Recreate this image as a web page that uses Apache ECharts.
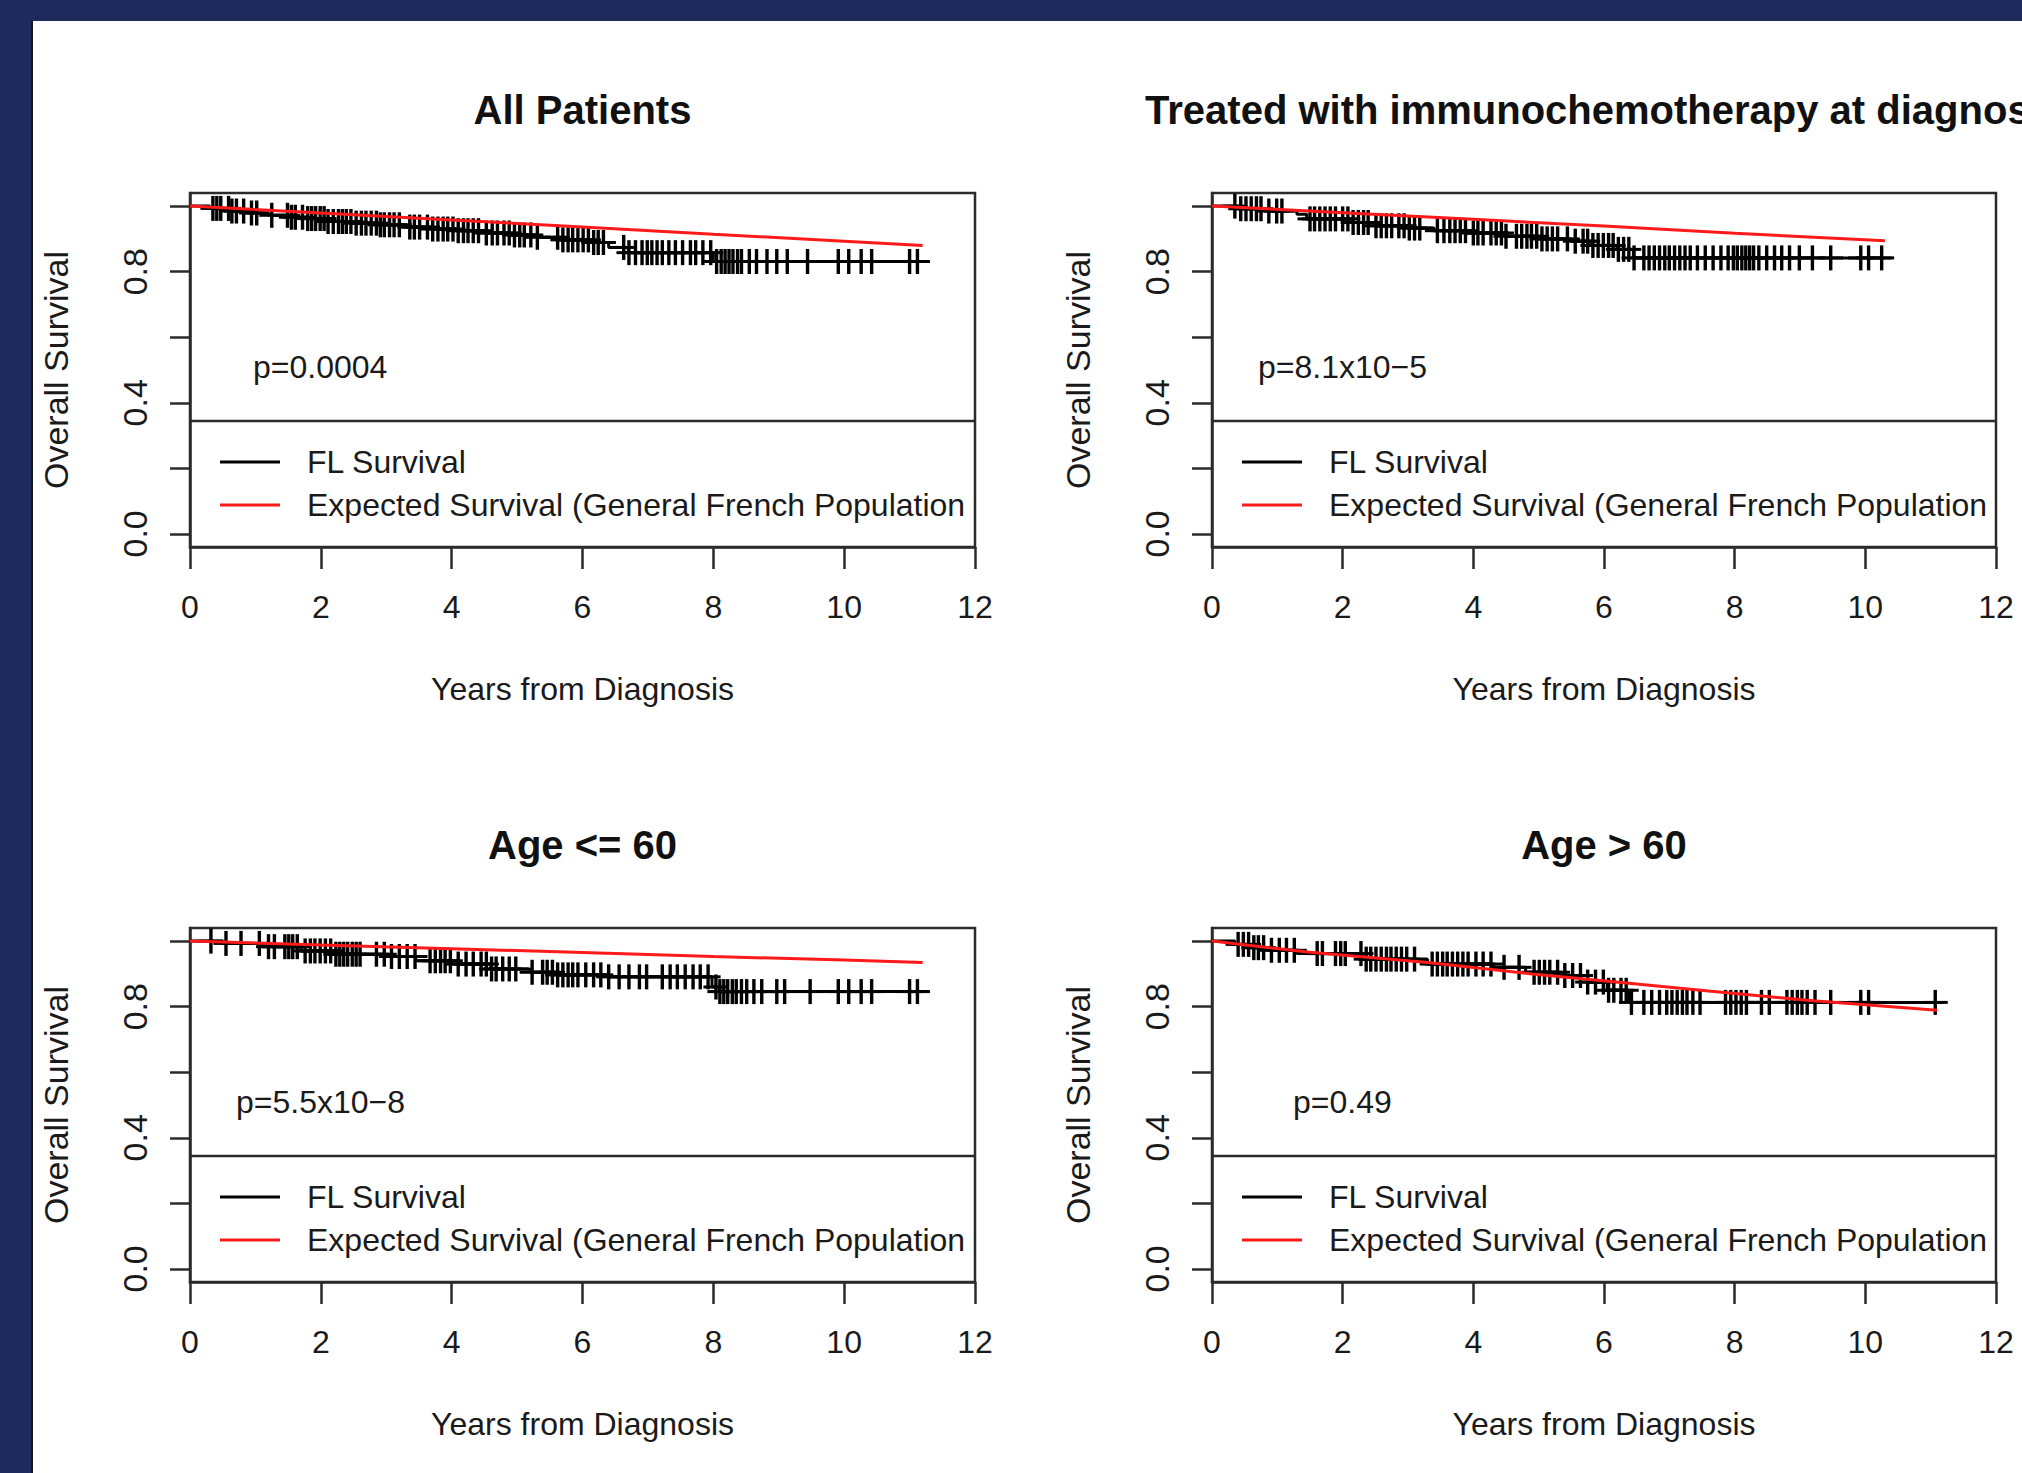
<!DOCTYPE html>
<html><head><meta charset="utf-8">
<script src="https://cdn.jsdelivr.net/npm/echarts@6/dist/echarts.min.js"></script>
<style>html,body{margin:0;padding:0;background:#1f2a5c;overflow:hidden}#c{width:2022px;height:1473px}</style>
</head><body><div id="c"></div>
<script>
// ---------------- DATA ----------------
const panelTitles = ['All Patients', 'Treated with immunochemotherapy at diagnosis', 'Age <= 60', 'Age > 60'];
const pValues = ['p=0.0004', 'p=8.1x10\u22125', 'p=5.5x10\u22128', 'p=0.49'];
const xTickValues = [0, 2, 4, 6, 8, 10, 12];
const yTickValues = [0, 0.2, 0.4, 0.6, 0.8, 1.0];
const yLabelValues = [0, 0.4, 0.8];
const seriesNames = ['FL Survival', 'Expected Survival (General French Population'];
const xTitle = 'Years from Diagnosis';
const yTitle = 'Overall Survival';

// Kaplan-Meier (FL survival) step points: time of drop, survival after it (last = end of follow-up)
const km1Time = [0, 0.3, 0.6, 0.9, 1.2, 1.5, 1.8, 2.1, 2.5, 2.9, 3.3, 3.7, 4.1, 4.5, 4.9, 5.3, 5.7, 6.1, 6.4, 6.7, 8.0, 11.3];
const km1Surv = [1.0, 0.993, 0.985, 0.979, 0.972, 0.966, 0.962, 0.953, 0.948, 0.943, 0.936, 0.930, 0.925, 0.918, 0.912, 0.905, 0.897, 0.889, 0.874, 0.858, 0.831, 0.831];
const km2Time = [0, 0.4, 0.8, 1.3, 1.45, 2.1, 2.5, 3.0, 3.4, 3.9, 4.5, 5.0, 5.5, 5.8, 6.2, 6.45, 10.4];
const km2Surv = [1.0, 0.992, 0.985, 0.975, 0.961, 0.950, 0.940, 0.933, 0.925, 0.918, 0.908, 0.900, 0.893, 0.880, 0.868, 0.842, 0.842];
const km3Time = [0, 0.5, 1.1, 1.7, 2.2, 3.0, 3.45, 4.0, 4.6, 5.2, 5.6, 6.4, 7.98, 8.1, 11.3];
const km3Surv = [1.0, 0.993, 0.983, 0.970, 0.960, 0.953, 0.940, 0.930, 0.915, 0.905, 0.897, 0.891, 0.860, 0.846, 0.846];
const km4Time = [0, 0.35, 0.6, 0.9, 1.3, 2.3, 3.3, 4.3, 4.8, 5.3, 5.75, 6.05, 6.38, 11.2];
const km4Surv = [1.0, 0.99, 0.98, 0.972, 0.962, 0.945, 0.930, 0.920, 0.905, 0.895, 0.875, 0.850, 0.813, 0.813];

// Expected survival (general French population)
const exp1Time = [0, 2, 4, 6, 8, 10, 11.2];
const exp1Surv = [1.0, 0.979, 0.958, 0.936, 0.914, 0.893, 0.880];
const exp2Time = [0, 2, 4, 6, 8, 10.3];
const exp2Surv = [1.0, 0.980, 0.960, 0.939, 0.917, 0.894];
const exp3Time = [0, 2, 4, 6, 8, 10, 11.2];
const exp3Surv = [1.0, 0.988, 0.977, 0.965, 0.953, 0.942, 0.935];
const exp4Time = [0, 1.5, 3.3, 4.9, 6.5, 7.6, 9.2, 11.1];
const exp4Surv = [1.0, 0.966, 0.935, 0.900, 0.869, 0.848, 0.818, 0.789];

// Censoring times (years)
const cens1 = [0.35,0.41,0.47,0.59,0.64,0.71,0.82,0.94,1.02,1.25,1.49,1.55,1.61,1.72,1.80,1.86,1.92,1.99,2.05,2.11,2.19,2.27,2.33,2.39,2.46,2.54,2.62,2.69,2.77,2.85,2.91,2.97,3.05,3.12,3.20,3.36,3.43,3.51,3.63,3.71,3.79,3.87,3.94,4.02,4.10,4.18,4.25,4.33,4.41,4.53,4.62,4.70,4.80,4.88,4.96,5.04,5.11,5.21,5.31,5.62,5.70,5.78,5.85,5.93,6.01,6.09,6.17,6.24,6.32,6.63,6.71,6.81,6.91,6.99,7.06,7.14,7.22,7.32,7.42,7.53,7.65,7.73,7.84,7.96,8.05,8.12,8.18,8.24,8.30,8.37,8.43,8.55,8.66,8.82,8.97,9.13,9.44,9.91,10.07,10.26,10.42,11.00,11.12];
const cens2 = [0.35,0.44,0.52,0.60,0.68,0.75,0.87,0.99,1.07,1.50,1.57,1.65,1.73,1.81,1.89,2.00,2.08,2.16,2.24,2.32,2.39,2.51,2.59,2.67,2.75,2.86,2.94,3.02,3.10,3.18,3.45,3.55,3.64,3.72,3.80,3.88,4.00,4.07,4.15,4.27,4.35,4.43,4.50,4.66,4.74,4.82,4.89,4.97,5.05,5.13,5.21,5.29,5.44,5.56,5.68,5.75,5.83,5.91,5.99,6.07,6.14,6.22,6.30,6.38,6.46,6.61,6.69,6.77,6.85,6.93,7.00,7.08,7.16,7.24,7.32,7.43,7.55,7.67,7.79,7.90,7.98,8.04,8.11,8.17,8.23,8.29,8.37,8.49,8.61,8.72,8.84,8.99,9.19,9.47,9.93,10.05,10.25];
const cens3 = [0.32,0.55,0.78,1.06,1.20,1.29,1.45,1.51,1.57,1.64,1.76,1.84,1.91,1.99,2.07,2.15,2.23,2.29,2.35,2.41,2.48,2.54,2.60,2.85,2.97,3.08,3.20,3.32,3.44,3.67,3.75,3.83,3.90,3.98,4.10,4.22,4.33,4.45,4.53,4.61,4.68,4.78,4.88,4.98,5.23,5.39,5.46,5.54,5.62,5.70,5.78,5.85,5.93,6.05,6.17,6.28,6.40,6.56,6.71,6.87,6.98,7.22,7.34,7.45,7.57,7.69,7.80,7.92,8.04,8.10,8.16,8.22,8.29,8.35,8.43,8.51,8.62,8.74,8.97,9.09,9.48,9.91,10.07,10.26,10.42,11.00,11.12];
const cens4 = [0.40,0.48,0.56,0.64,0.71,0.79,0.91,1.03,1.14,1.26,1.61,1.69,1.89,1.97,2.04,2.28,2.36,2.43,2.51,2.59,2.67,2.74,2.82,2.90,2.98,3.10,3.37,3.45,3.53,3.60,3.68,3.76,3.84,3.92,4.04,4.15,4.27,4.47,4.70,4.93,5.01,5.09,5.17,5.29,5.40,5.52,5.64,5.75,5.87,5.99,6.07,6.15,6.26,6.34,6.42,6.61,6.73,6.85,6.96,7.04,7.12,7.20,7.27,7.36,7.47,7.86,7.94,8.02,8.10,8.18,8.41,8.53,8.80,8.88,8.96,9.03,9.11,9.23,9.47,9.93,10.05,11.07];

// ---------------- LAYOUT / STYLE ----------------
const FONT = '"Liberation Sans", Arial, Helvetica, sans-serif';
const TXT = '#1a1a1a';
const AX = '#2b2b2b';
const grids = [
  {left: 190, top: 193, width: 785, height: 354},
  {left: 1212, top: 193, width: 784, height: 354},
  {left: 190, top: 928, width: 785, height: 354},
  {left: 1212, top: 928, width: 784, height: 354}
];
const titleY = [110, 110, 845, 845];
const pY = [367, 367, 1102, 1102];
const pX = [253, 1258, 236, 1293];

const panels = [
  {kmT: km1Time, kmS: km1Surv, exT: exp1Time, exS: exp1Surv, cens: cens1},
  {kmT: km2Time, kmS: km2Surv, exT: exp2Time, exS: exp2Surv, cens: cens2},
  {kmT: km3Time, kmS: km3Surv, exT: exp3Time, exS: exp3Surv, cens: cens3},
  {kmT: km4Time, kmS: km4Surv, exT: exp4Time, exS: exp4Surv, cens: cens4}
];

function kmAt(T, S, t) {
  let s = S[0];
  for (let i = 0; i < T.length; i++) { if (T[i] <= t) s = S[i]; else break; }
  return s;
}
const zip = (a, b) => a.map((v, i) => [v, b[i]]);

const xAxes = [], yAxes = [], series = [], legends = [], gridOpts = [];
const graphics = [
  {type: 'rect', shape: {x: 32, y: 21, width: 2022 - 32, height: 1473 - 21}, style: {fill: '#ffffff'}, z: -100},
  {type: 'rect', shape: {x: 31, y: 21, width: 2, height: 1473 - 21}, style: {fill: '#151515'}, z: -99}
];

grids.forEach((g, i) => {
  const p = panels[i];
  gridOpts.push({left: g.left, top: g.top, width: g.width, height: g.height, show: true,
    borderColor: AX, borderWidth: 2.5, backgroundColor: 'transparent', containLabel: false});
  xAxes.push({type: 'value', gridIndex: i, min: 0, max: 12, interval: 2,
    axisLine: {show: true, onZero: false, lineStyle: {color: AX, width: 2.5}},
    axisTick: {show: true, length: 22, lineStyle: {color: AX, width: 2.5}},
    axisLabel: {margin: 44, fontSize: 32, fontFamily: FONT, color: TXT, lineHeight: 32},
    splitLine: {show: false},
    name: xTitle, nameLocation: 'middle', nameGap: 126,
    nameTextStyle: {fontSize: 32, fontFamily: FONT, color: TXT, lineHeight: 32}
  });
  yAxes.push({type: 'value', gridIndex: i, min: -0.04, max: 1.04,
    axisLine: {show: true, onZero: false, lineStyle: {color: AX, width: 2.5}},
    axisTick: {show: true, length: 20, customValues: yTickValues, lineStyle: {color: AX, width: 2.5}},
    axisLabel: {customValues: yLabelValues, rotate: 90, margin: 38, fontSize: 34, fontFamily: FONT,
      color: TXT, lineHeight: 34, formatter: v => Number(v).toFixed(1)},
    splitLine: {show: false},
    name: yTitle, nameLocation: 'middle', nameRotate: 90, nameGap: 117,
    nameTextStyle: {fontSize: 34, fontFamily: FONT, color: TXT, lineHeight: 34}
  });
  series.push({type: 'line', name: seriesNames[0], xAxisIndex: i, yAxisIndex: i, step: 'end',
    symbol: 'none', color: '#000000', itemStyle: {color: '#000000'},
    lineStyle: {color: '#000000', width: 3}, data: zip(p.kmT, p.kmS), z: 3, silent: true, animation: false});
  series.push({type: 'custom', name: 'censored', xAxisIndex: i, yAxisIndex: i, z: 3, silent: true, animation: false,
    data: p.cens.map(t => [t, kmAt(p.kmT, p.kmS, t)]),
    renderItem: function (params, api) {
      const c = api.coord([api.value(0), api.value(1)]);
      const h = 12.5;
      return {type: 'group', children: [
        {type: 'line', shape: {x1: c[0], y1: c[1] - h, x2: c[0], y2: c[1] + h}, style: {stroke: '#000', lineWidth: 3.4}},
        {type: 'line', shape: {x1: c[0] - h, y1: c[1], x2: c[0] + h, y2: c[1]}, style: {stroke: '#000', lineWidth: 3}}
      ]};
    }
  });
  series.push({type: 'line', name: seriesNames[1], xAxisIndex: i, yAxisIndex: i,
    symbol: 'none', color: '#ff1a1a', itemStyle: {color: '#ff1a1a'},
    lineStyle: {color: '#ff1a1a', width: 3}, data: zip(p.exT, p.exS), z: 5, silent: true, animation: false});
  legends.push({data: seriesNames, orient: 'vertical', left: g.left + 30, top: 446, icon: 'rect',
    itemWidth: 60, itemHeight: 3, itemGap: 11, padding: 0, selectedMode: false,
    textStyle: {fontSize: 32, fontFamily: FONT, color: TXT, lineHeight: 32, padding: [0, 0, 0, 22]}});
  if (i >= 2) legends[i].top = 446 + 735;
  // legend frame top edge (the legend box shares the plot box's other edges)
  graphics.push({type: 'line', shape: {x1: g.left, y1: g.top + 228, x2: g.left + g.width, y2: g.top + 228},
    style: {stroke: AX, lineWidth: 2.5}, z: 10});
  graphics.push({type: 'text', x: g.left + g.width / 2, y: titleY[i],
    style: {text: panelTitles[i], font: 'bold 40px ' + FONT, fill: '#111', textAlign: 'center', textVerticalAlign: 'middle'}, z: 10});
  graphics.push({type: 'text', x: pX[i], y: pY[i],
    style: {text: pValues[i], font: '32px ' + FONT, fill: TXT, textAlign: 'left', textVerticalAlign: 'middle'}, z: 10});
});

const chart = echarts.init(document.getElementById('c'), null, {renderer: 'svg', width: 2022, height: 1473});
chart.setOption({
  backgroundColor: '#1f2a5c',
  animation: false,
  grid: gridOpts,
  xAxis: xAxes,
  yAxis: yAxes,
  legend: legends,
  series: series,
  graphic: {elements: graphics}
});
</script>
</body></html>
